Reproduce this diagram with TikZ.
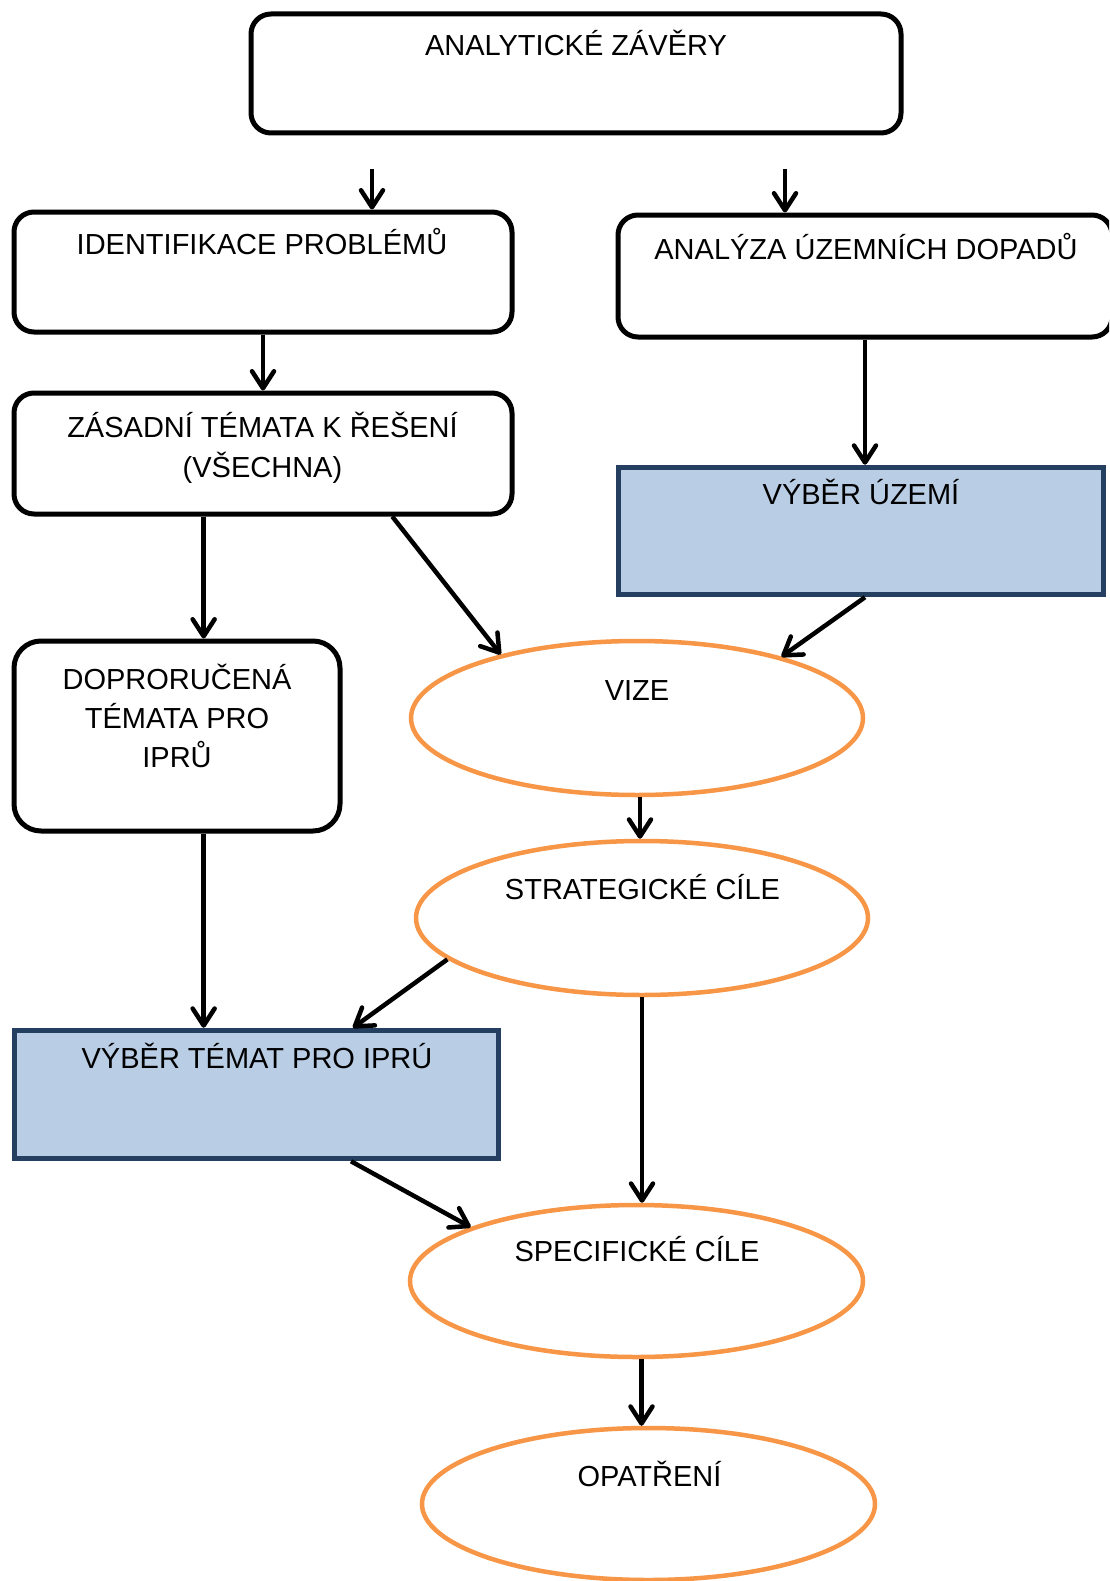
\documentclass[tikz,border=0pt]{standalone}
\usepackage{fontspec}
\setmainfont{Liberation Sans}
\usetikzlibrary{arrows.meta,shapes.geometric,calc}
\definecolor{orng}{HTML}{F79646}
\definecolor{bfill}{HTML}{B9CDE5}
\definecolor{bdraw}{HTML}{243F60}
\tikzset{
  rbox/.style={rectangle, draw=black, line width=5pt, rounded corners=20pt, inner sep=0pt},
  bbox/.style={rectangle, draw=bdraw, fill=bfill, line width=5pt, inner sep=0pt},
  ell/.style={ellipse, draw=orng, line width=4.5pt, inner sep=0pt, minimum width=453pt, minimum height=152pt},
  txt/.style={anchor=base, inner sep=0pt, font=\fontsize{29}{39}\selectfont, text=black},
  arr/.style={line width=4.5pt, -{Straight Barb[length=17pt,width=22pt,round]}}
}
\begin{document}
\begin{tikzpicture}[x=1pt,y=-1pt]
\useasboundingbox (0,0) rectangle (1109,1581);
\fill[white] (0,0) rectangle (1109,1581);
\clip (0,0) rectangle (1109,1581);

% shapes
\node[rbox, minimum width=650pt, minimum height=119pt] (top) at (576,73.5) {};
\node[rbox, minimum width=498pt, minimum height=120pt] (ident) at (263,272) {};
\node[rbox, minimum width=494pt, minimum height=122pt] (anal) at (865,276) {};
\node[rbox, minimum width=498pt, minimum height=121pt] (zas) at (263,453.5) {};
\node[bbox, minimum width=485.5pt, minimum height=127.5pt] (vyberU) at (861,531) {};
\node[rbox, rounded corners=27pt, minimum width=326pt, minimum height=190pt] (dopr) at (177,736) {};
\node[ell, minimum width=452pt, minimum height=154pt] (vize) at (637,718) {};
\node[ell, minimum width=452pt, minimum height=154pt] (strat) at (642,918) {};
\node[bbox, minimum width=484.5pt, minimum height=128.5pt] (vyberT) at (256.5,1094.5) {};
\node[ell] (spec) at (636.5,1281) {};
\node[ell] (opat) at (648.5,1504) {};

% texts
\node[txt] (ttop) at (576,56) {ANALYTICKÉ ZÁVĚRY};
\node[txt] (tident) at (262,254) {IDENTIFIKACE PROBLÉMŮ};
\node[txt] (tanal) at (866,259) {ANALÝZA ÚZEMNÍCH DOPADŮ};
\node[txt] (tzas1) at (262.5,437) {ZÁSADNÍ TÉMATA K ŘEŠENÍ};
\node[txt] (tzas2) at (262.5,477) {(VŠECHNA)};
\node[txt] (tvyberU) at (861,504) {VÝBĚR ÚZEMÍ};
\node[txt] (tdopr1) at (177,689) {DOPRORUČENÁ};
\node[txt] (tdopr2) at (177,728) {TÉMATA PRO};
\node[txt] (tdopr3) at (177,767) {IPRŮ};
\node[txt] (tvize) at (637,700) {VIZE};
\node[txt] (tstrat) at (642.5,899) {STRATEGICKÉ CÍLE};
\node[txt] (tvyberT) at (257,1068) {VÝBĚR TÉMAT PRO IPRÚ};
\node[txt] (tspec) at (637,1261) {SPECIFICKÉ CÍLE};
\node[txt] (topat) at (649.5,1486) {OPATŘENÍ};

% connectors
\coordinate (t1) at (372,169);
\coordinate (t2) at (785,169);
\draw[arr] (t1) -- (t1 |- ident.north);
\draw[arr] (t2) -- (t2 |- anal.north);
\draw[arr] (ident.south) -- (zas.north);
\draw[arr] (anal.south) -- (anal.south |- vyberU.north);
\coordinate (c1) at ($(zas.south west)!0.382!(zas.south east)$);
\draw[arr] (c1) -- (c1 |- dopr.north);
\draw[arr] (c1 |- dopr.south) -- (c1 |- vyberT.north);
\draw[arr] ($(zas.south west)!0.757!(zas.south east)$) -- (vize.155);
\draw[arr] ([xshift=4pt]vyberU.south) -- (vize.23);
\draw[arr] ([xshift=3pt]vize.south) -- ([xshift=3pt]vize.south |- strat.north);
\draw[arr] (strat.192) -- ($(vyberT.north west)!0.697!(vyberT.north east)$);
\draw[arr] (strat.south) -- (strat.south |- spec.north);
\draw[arr] ($(vyberT.south west)!0.693!(vyberT.south east)$) -- (spec.162);
\draw[arr] ([xshift=5pt]spec.south) -- ([xshift=5pt]spec.south |- opat.north);
\end{tikzpicture}
\end{document}
